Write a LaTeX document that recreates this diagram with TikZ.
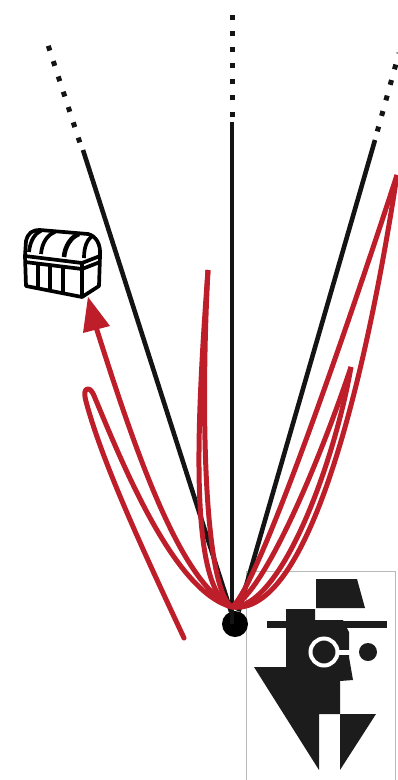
\documentclass[tikz,border=0pt]{standalone}
\definecolor{trail}{RGB}{190,30,42}
\definecolor{ink}{RGB}{28,28,28}
\begin{document}
\begin{tikzpicture}[x=1pt, y=-1pt,
    branch/.style={line width=4.6pt, black!92},
    dots/.style={line width=5pt, black!92, dash pattern=on 5pt off 11.1pt},
    walk/.style={line width=5pt, trail, line join=round},
    chest/.style={line width=3.7pt, black, line join=round}]
  \useasboundingbox (0,0) rectangle (397,780);

  % spy
  \draw[gray!55, line width=1pt] (246,780) -- (246,571) -- (395,571) -- (395,780);
  \fill[ink] (316,579) -- (357,579) -- (365,608) -- (316,608) -- cycle;
  \fill[ink] (286,609) -- (315,609) -- (315,620) -- (343,620) -- (349,632) -- (349,657) -- (353,680) -- (340,681) -- (340,714) -- (319,714) -- (319,770) -- (254,667) -- (286,667) -- cycle;
  \fill[ink] (340,714) -- (376,714) -- (340,770) -- cycle;
  \draw[ink, line width=7pt] (267,624) -- (387,624);
  \draw[white, line width=4pt] (324,652) circle (13.5);
  \draw[white, line width=5pt] (337,652) -- (351,652);
  \fill[ink] (324,652) circle (8.5);
  \fill[ink] (368,652) circle (9);

  % chest
  \draw[chest, fill=white] (25,256) -- (26,241) .. controls (28,233) and (32,230) .. (40,230) -- (88,234) .. controls (96,236) and (101,244) .. (100,256) -- (99,286) -- (82,297) -- (26,286) -- cycle;
  \draw[chest] (25,256) -- (82,263) -- (100,256);
  \draw[chest] (25,262) -- (82,269) -- (100,262);
  \draw[chest] (82,263) -- (82,297);
  \draw[chest] (38,264) -- (38,289);
  \draw[chest] (50,265) -- (50,291);
  \draw[chest] (63,267) -- (63,293);
  \draw[chest] (29,252) .. controls (30,241) and (35,233) .. (41,231);
  \draw[chest] (41,254) .. controls (42,243) and (47,235) .. (55,232);
  \draw[chest, line width=4.6pt] (64,257) .. controls (65,246) and (71,237) .. (79,234);
  \draw[chest] (84,258) .. controls (84,247) and (87,240) .. (92,236);

  \node[circle, fill=black, inner sep=0pt, minimum size=26pt] (root) at (235,624) {};
  \coordinate (L) at (83,150);
  \coordinate (M) at (232,122);
  \coordinate (R) at (375,140);
  \coordinate (Lfrom) at (79.8,142.4);
  \coordinate (Mfrom) at (232,116.5);
  \coordinate (Rfrom) at (377.3,131.4);
  \coordinate (Ltop) at (48.2,45.6);
  \coordinate (Mtop) at (232,11.5);
  \coordinate (Rtop) at (399,53);

  \draw[branch] (root) -- (L);
  \draw[branch] (M |- root) -- (M);
  \draw[branch] (root) -- (R);
  \draw[dots] (Lfrom) -- (Ltop);
  \draw[dots] (Mfrom) -- (Mtop);
  \draw[dots] (Rfrom) -- (Rtop);

  \coordinate (start) at (184,638);
  \coordinate (fork) at (232,607);
  \coordinate (peak) at (208,270);
  \coordinate (hook) at (351,367);
  \coordinate (exit) at (397,175);
  \coordinate (goal) at (96,327);

  \draw[walk, line cap=round] (start) .. controls (150,565) and (105,470) .. (87,405) .. controls (83,392) and (85,389) .. (88,389) .. controls (91,389) and (93,393) .. (95,398) .. controls (125,470) and (175,592) .. (fork);
  \draw[walk] (fork) .. controls (264,594) and (320,460) .. (hook);
  \draw[walk] (hook) .. controls (335,460) and (282,608) .. (fork);
  \draw[walk] (fork) .. controls (188,590) and (197,420) .. (peak);
  \draw[walk] (peak) .. controls (200,420) and (205,590) .. (fork);
  \draw[walk] (fork) .. controls (256,590) and (340,350) .. (exit);
  \draw[walk] (exit) .. controls (375,320) and (318,618) .. (fork);
  \draw[walk] (fork) .. controls (180,583) and (135,450) .. (goal);
  \fill[trail] (88,297) -- (110,326) -- (83,333) -- cycle;
\end{tikzpicture}
\end{document}
